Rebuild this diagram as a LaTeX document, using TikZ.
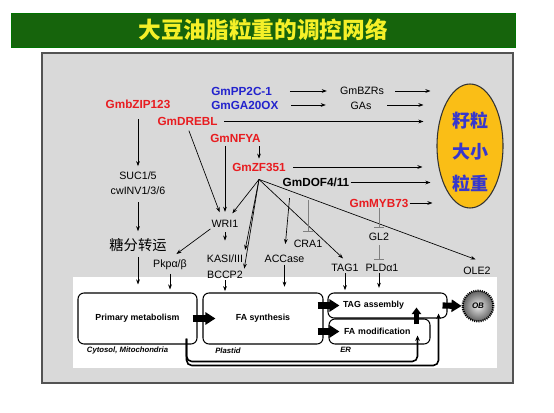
\documentclass[tikz,border=0pt]{standalone}
\usepackage{fontspec}
\setmainfont{Liberation Sans}
\newfontfamily\cjk{Noto Sans CJK SC}
\usetikzlibrary{arrows.meta}
\usetikzlibrary{calc}
\usetikzlibrary{shapes.geometric}
\definecolor{gmred}{RGB}{232,28,32}
\definecolor{gmblue}{RGB}{35,35,205}
\definecolor{seedblue}{RGB}{55,55,205}
\definecolor{seedyellow}{RGB}{250,190,22}
\definecolor{titlegreen}{RGB}{22,100,12}
\definecolor{titleyellow}{RGB}{245,240,40}
\definecolor{panelgray}{RGB}{217,217,217}

\begin{document}
\begin{tikzpicture}[x=0.75pt,y=0.75pt,yscale=-1,xscale=1,
  gene/.style={inner sep=0.75pt, text=gmred, font=\fontsize{8.8}{10}\selectfont\bfseries},
  lbl/.style={inner sep=0.75pt, font=\fontsize{8}{11.25}\selectfont},
  cjklbl/.style={inner sep=0.75pt, font=\cjk\fontsize{10.7}{12}\selectfont},
  box/.style={draw, line width=0.8pt, rounded corners=4.5pt, inner sep=0pt, font=\fontsize{6.6}{8}\selectfont\bfseries},
  region/.style={inner sep=0.75pt, anchor=west, font=\fontsize{5.8}{7}\selectfont\bfseries\itshape},
  seed/.style={ellipse, draw=gray!40!black, line width=0.8pt, fill=seedyellow, minimum width=49.5pt, minimum height=93pt, inner sep=0pt},
  ob/.style={circle, minimum size=23pt, inner sep=0pt, draw=black, line width=1.6pt, dash pattern=on 0.8pt off 0.8pt, inner color=gray!15, outer color=gray!75!black, font=\fontsize{6}{7}\selectfont\bfseries\itshape},
  arr/.style={line width=0.5pt, -{Stealth[length=3.8pt,width=2.8pt]}},
  inh/.style={line width=0.6pt, draw=black!50, -{Bar[width=7pt]}},
  fat/.style={line width=4.6pt, -{Triangle[length=7.5pt,width=9pt]}},
  fatup/.style={line width=3.5pt, -{Triangle[length=5pt,width=7pt]}},
  conn/.style={line width=1.2pt, rounded corners=4pt, -{Stealth[length=4pt,width=3.5pt]}}
]
\useasboundingbox (0,0) rectangle (554,413);

%Shape: Title Bar
\node [fill=titlegreen, draw=green!45!black, minimum width=378pt, minimum height=25.5pt, inner sep=0pt, text=titleyellow, font=\cjk\bfseries\fontsize{17}{20}\selectfont] (title) at (263,30) {大豆油脂粒重的调控网络};
%Shape: Rectangle
\draw [draw=gray!65!black, fill=panelgray, line width=0.8pt] (42,53) rectangle (513,383);
%Shape: Rectangle
\fill [white] (73,277) rectangle (497,368);

%Shape: Ellipse
\node [seed] (seed) at (470,146) {};
% Text Node
\node [inner sep=0pt, align=center, text=seedblue, font=\cjk\bfseries\fontsize{13.5}{23.6}\selectfont] (seedtxt) at (470,152) {籽粒\\大小\\粒重};

% Text Node
\node [gene, text=gmblue, anchor=west] (pp2c) at (210,91) {GmPP2C-1};
% Text Node
\node [gene, text=gmblue, anchor=west] (ga20) at (210,105) {GmGA20OX};
% Text Node
\node [lbl] (bzr) at (362,91) {GmBZRs};
% Text Node
\node [lbl] (gas) at (361,106) {GAs};
% Text Node
\node [gene] (bzip) at (138,104) {GmbZIP123};
% Text Node
\node [gene] (dreb) at (187.5,121.5) {GmDREBL};
% Text Node
\node [gene] (nfya) at (235.5,138.5) {GmNFYA};
% Text Node
\node [gene] (zf) at (259,167) {GmZF351};
% Text Node
\node [gene, text=black] (dof) at (316,182.5) {GmDOF4/11};
% Text Node
\node [gene] (myb) at (379,203) {GmMYB73};
% Text Node
\node [lbl, align=center] (suc) at (138,183.5) {SUC1/5\\cwINV1/3/6};
% Text Node
\node [cjklbl] (sugar) at (138,245) {糖分转运};
% Text Node
\node [lbl] (wri) at (225,224) {WRI1};
% Text Node
\node [lbl] (pkp) at (170,265) {Pkpα/β};
% Text Node
\node [lbl] (kas) at (225,259) {KASI/III};
% Text Node
\node [lbl] (bccp) at (225,275) {BCCP2};
% Text Node
\node [lbl] (acc) at (284.5,259) {ACCase};
% Text Node
\node [lbl] (cra) at (308,244) {CRA1};
% Text Node
\node [lbl] (gl2) at (379,237) {GL2};
% Text Node
\node [lbl] (tag1) at (345,268) {TAG1};
% Text Node
\node [lbl] (pld) at (382,268) {PLDα1};
% Text Node
\node [lbl] (ole) at (477,270.5) {OLE2};

%Shape: Rounded Rectangles
\node [box, minimum width=89.25pt, minimum height=38.25pt] (pm) at (137.5,318.5) {Primary metabolism};
\node [box, minimum width=90pt, minimum height=38.25pt] (fas) at (263,318.5) {FA synthesis};
\node [box, text width=66.75pt, inner xsep=11.25pt, align=left, minimum height=18.75pt] (tas) at (387.5,305.5) {TAG assembly};
\node [box, text width=53.25pt, inner xsep=11.25pt, align=left, minimum height=18.75pt] (fam) at (379.5,331.5) {FA modification};
%Shape: Circle
\node [ob] (ob) at (478,306) {OB};
% Text Node
\node [region] (cyto) at (85.7,351) {Cytosol, Mitochondria};
\node [region] (plas) at (214,351) {Plastid};
\node [region] (er) at (339,350) {ER};

%Straight Lines (to seed size)
\draw [arr, shorten <=12.5pt, shorten >=9pt] (pp2c.east) -- (pp2c.east -| bzr.west);
\draw [arr, shorten <=7.5pt, shorten >=4.5pt] (bzr.east) -- (bzr.east -| seed.west);
\draw [arr, shorten <=8.7pt, shorten >=17.7pt] (ga20.east) -- (ga20.east -| gas.west);
\draw [arr, shorten <=11pt, shorten >=9.75pt] (gas.east |- ga20.east) -- (ga20.east -| seed.west);
\draw [arr, shorten <=4.3pt, shorten >=9.75pt] (dreb.east) -- (dreb.east -| seed.west);
\draw [arr, shorten <=4.5pt, shorten >=10.5pt] (zf.east) -- (zf.east -| seed.west);
\draw [arr, shorten >=4.5pt] (dof.east) -- (dof.east -| seed.west);
\draw [arr, shorten >=3pt] (myb.east) -- (myb.east -| seed.west);

%Straight Lines
\draw [arr, shorten <=7.3pt, shorten >=3.5pt] (bzip.south) -- (suc.north);
\draw [arr, shorten <=4.5pt, shorten >=4.4pt] (suc.south) -- (sugar.north);
\draw [arr, shorten <=3pt, shorten >=6pt] (sugar.south) -- (sugar.south |- pm.north);
\draw [arr, shorten <=1.6pt, shorten >=2.2pt] (zf.north |- nfya.south) -- (zf.north);
\draw [arr, shorten <=3pt, shorten >=5.5pt] (dreb.south) -- (wri.120);
\draw [arr, shorten <=1.6pt, shorten >=5.4pt] (wri.north |- nfya.south) -- (wri.north);
\coordinate (fan) at ($(zf.south)+(0,7)$);
\draw [arr, shorten >=5.5pt] (fan) -- (wri.60);
\draw [arr, shorten >=3pt] (fan) -- (kas.north east);
\draw [arr, shorten >=1pt] (fan) -- (bccp.north east);
\draw [arr, shorten >=5pt] (fan) -- (tag1.60);
\draw [arr, shorten >=13pt] (fan) -- (ole.north east);
\draw [arr, shorten <=7.5pt, shorten >=7.5pt] ($(dof.south west)!.13!(dof.south east)$) -- (acc.north);
\draw [inh, shorten <=9pt, shorten >=5.4pt] (cra.north |- dof.south) -- (cra.north);
\draw [inh, shorten >=3.2pt] (myb.south) -- (gl2.north);
\draw [inh, shorten <=2.5pt, shorten >=2.4pt] (gl2.south) -- (gl2.south |- pld.north);
\draw [arr, shorten >=6pt] (wri.south west) -- (pkp.north);
\draw [arr, shorten <=2.4pt, shorten >=9.9pt] (wri.south) -- (kas.north);

%Straight Lines (into the boxes)
\draw [arr, shorten <=2pt, shorten >=2.25pt] (pkp.south) -- (pkp.south |- pm.north);
\draw [arr, shorten >=1pt] (bccp.south) -- (bccp.south |- fas.north);
\draw [arr, shorten <=0.5pt, shorten >=4.3pt] (acc.south) -- (acc.south |- fas.north);
\draw [arr, shorten >=1.7pt] (tag1.south) -- (tag1.south |- tas.north);
\draw [arr, shorten >=3.5pt] (gl2.south |- pld.south) -- (gl2.south |- tas.north);

%Block Arrows
\draw [fat] ($(pm.east)+(-5,0)$) -- ($(fas.west)+(13,0)$);
\draw [fat] ($(fas.east |- tas.west)+(-6,0)$) -- ($(tas.west)+(12,0)$);
\draw [fat] ($(fas.east |- fam.west)+(-6,0)$) -- ($(fam.west)+(11,0)$);
\draw [fatup] ($(fam.north)+(37,6)$) -- ($(tas.south)+(29,-11)$);
\draw [fat] ($(tas.east)+(-5,0)$) -- (ob.west);

%Elbow Lines
\draw [conn] ($(pm.south east)+(-11,-6)$) -- ++(0,23) -| ($(fam.south east)+(-13,-9)$);
\draw [conn] ($(pm.south east)+(-11,-6)$) -- ++(0,27) -| ($(tas.south east)+(-9,-5)$);

\end{tikzpicture}
\end{document}
